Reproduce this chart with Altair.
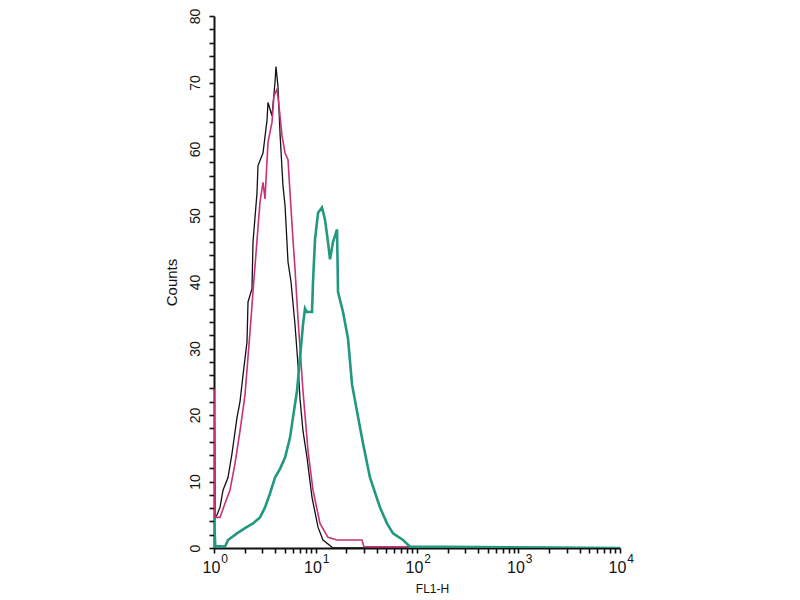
import altair as alt
import pandas as pd

# FL1-H channel values and counts
black_x = [1.0, 1.0, 1.023, 1.07, 1.146, 1.227, 1.374, 1.504, 1.685, 1.804, 1.931, 2.114,
           2.163, 2.368, 2.422, 2.653, 2.713, 3.04, 3.327, 3.404, 3.726, 3.99, 4.08, 4.27,
           4.47, 4.78, 5.01, 5.36, 5.74, 6.28, 6.72, 7.03, 7.53, 8.25, 9.24, 10.6, 11.86,
           14.87, 10000]
black_y = [0, 28.5, 4.5, 5.0, 6.1, 8.7, 10.6, 14.2, 19.6, 22, 26, 31,
           37, 39, 46, 53.4, 57.5, 59.4, 64.3, 67, 65, 70, 72.4, 69.4,
           62.4, 54.5, 51.5, 43, 40, 33.6, 27.6, 22.5, 17.6, 13.6, 7.6, 3.1, 1.2,
           0, 0]

pink_x = [1.0, 1.0, 1.023, 1.146, 1.283, 1.438, 1.61, 1.804, 2.02, 2.263, 2.422, 2.838,
          3.04, 3.18, 3.404, 3.726, 3.9, 4.18, 4.37, 4.68, 5.01, 5.36, 5.61, 6.0,
          6.28, 6.72, 7.53, 8.44, 9.45, 11.07, 13.28, 16.3, 28.7, 30.0, 10000]
pink_y = [0, 24, 4.6, 4.6, 6.7, 8.7, 12.7, 17.6, 23, 32.5, 38.5, 52,
          55, 52.5, 61, 64, 68, 69, 66.4, 62, 59.4, 58.4, 53.4, 46.4,
          42, 34.5, 23.6, 14.6, 8.7, 3.7, 1.6, 1.2, 1.2, 0.2, 0]

teal_x = [1.0, 1.0, 1.03, 1.283, 1.374, 1.685, 2.02, 2.422, 2.838, 3.18, 3.56, 3.99,
          4.47, 5.01, 5.61, 6.0, 6.57, 7.03, 7.53, 7.88, 8.2, 9.24, 9.45, 9.89,
          10.6, 11.59, 12.4, 13.28, 13.9, 14.87, 16.3, 16.67, 18.67, 20.9, 22.9,
          25.6, 29.4, 34.4, 43.2, 50.6, 58.0, 72.8, 85.3, 10000]
teal_y = [0, 4.5, 0.3, 0.2, 1.2, 2.2, 3.0, 3.7, 4.6, 6.1, 8.2, 10.6,
          11.9, 13.6, 16.6, 19.6, 23.6, 28.5, 33.6, 36, 35.5, 35.5, 40, 46.4,
          50.4, 51.2, 49.4, 46, 43.4, 46, 47.9, 38.5, 35.5, 31.5, 24.6,
          20.6, 15.7, 10.6, 6.1, 3.7, 2.2, 1.2, 0.2, 0]

series_names = ["control", "isotype", "stained"]
series_colors = ["#111111", "#c8327a", "#22987e"]
series_widths = [1.3, 1.6, 2.6]

x_ticks = [m * 10 ** d for d in range(4) for m in range(1, 10)] + [10000]
x_decades = [1, 10, 100, 1000, 10000]
y_ticks = list(range(0, 81, 2))

FONT = "Liberation Sans"
INK = "#111111"

x_scale = alt.Scale(type="log", domain=[1, 10000], nice=False)

x_axis_main = alt.Axis(
    orient="bottom",
    values=x_ticks,
    labelExpr="indexof([1, 10, 100, 1000, 10000], datum.value) >= 0 ? '10' : ''",
    labelOverlap=False,
    labelFlush=False,
    labelFont=FONT,
    labelFontSize=16,
    labelColor=INK,
    labelPadding=6,
    labelOffset=-3,
    tickSize=5,
    tickWidth=1.6,
    tickColor=INK,
    domainColor=INK,
    domainWidth=2,
    grid=False,
    title="FL1-H",
    titleFont=FONT,
    titleFontSize=12,
    titleFontWeight="normal",
    titleColor=INK,
    titleX=218,
    titleY=40,
    titleAlign="center",
    titleBaseline="middle",
)

x_axis_sup = alt.Axis(
    orient="bottom",
    values=x_decades,
    labelExpr="'' + round(log(datum.value) / LN10)",
    labelOverlap=False,
    labelFlush=False,
    labelFont=FONT,
    labelFontSize=12,
    labelColor=INK,
    labelPadding=0,
    labelOffset=10,
    tickSize=5,
    tickOpacity=0,
    domainOpacity=0,
    grid=False,
    title=None,
)

y_enc = alt.Y(
    "counts:Q",
    scale=alt.Scale(domain=[0, 80], nice=False),
    axis=alt.Axis(
        values=y_ticks,
        labelExpr="datum.value % 10 == 0 ? datum.label : ''",
        labelOverlap=False,
        labelFlush=False,
        labelAngle=270,
        labelAlign="center",
        labelBaseline="bottom",
        labelFont=FONT,
        labelFontSize=14,
        labelColor=INK,
        labelPadding=7,
        tickSize=5,
        tickWidth=1.6,
        tickColor=INK,
        domainColor=INK,
        domainWidth=2,
        grid=False,
        title="Counts",
        titleFont=FONT,
        titleFontSize=15,
        titleFontWeight="normal",
        titleColor=INK,
        titleAngle=270,
        titleX=-43,
        titleY=266,
        titleAlign="center",
        titleBaseline="middle",
    ),
)


def layer(xs, ys, idx):
    df = pd.DataFrame({"fl1h": xs, "counts": ys, "series": series_names[idx]})
    return alt.Chart(df).mark_line(
        color=series_colors[idx],
        strokeWidth=series_widths[idx],
        clip=True,
    ).encode(
        x=alt.X("fl1h:Q", scale=x_scale, axis=x_axis_main),
        y=y_enc,
        order=alt.Order("fl1h:Q"),
    )


curves = alt.layer(
    layer(black_x, black_y, 0),
    layer(pink_x, pink_y, 1),
    layer(teal_x, teal_y, 2),
)

sup_df = pd.DataFrame({"fl1h": x_decades})
superscripts = alt.Chart(sup_df).mark_point(opacity=0).encode(
    x=alt.X("fl1h:Q", scale=x_scale, axis=x_axis_sup)
)

chart = alt.layer(curves, superscripts).resolve_axis(x="independent").properties(
    width=406,
    height=532,
    autosize=alt.AutoSizeParams(type="none"),
    padding={"left": 206, "top": 8, "right": 170, "bottom": 50},
    background="white",
).configure_view(stroke=None)

chart.save("out.html", embed_options={"renderer": "svg", "actions": False})
